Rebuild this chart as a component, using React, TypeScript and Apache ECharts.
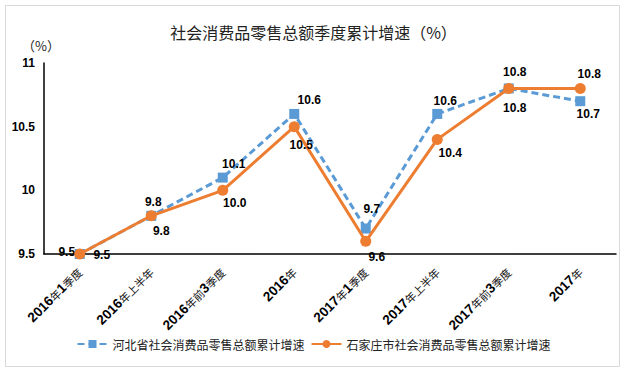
import React, { useEffect, useRef } from "react";
import * as echarts from "echarts";

const categories = ["2016年1季度", "2016年上半年", "2016年前3季度", "2016年", "2017年1季度", "2017年上半年", "2017年前3季度", "2017年"];
const hebeiValues = [9.5, 9.8, 10.1, 10.6, 9.7, 10.6, 10.8, 10.7];
const sjzValues = [9.5, 9.8, 10.0, 10.5, 9.6, 10.4, 10.8, 10.8];
const hebeiName = "河北省社会消费品零售总额累计增速";
const sjzName = "石家庄市社会消费品零售总额累计增速";
const titleText = "社会消费品零售总额季度累计增速（%）";

const hebeiOffsets = [[-13, -2], [2, -14], [11, -14], [15, -14], [6, -20], [8, -13], [6, 20], [8, 13]];
const sjzOffsets = [[22, 1], [10, 15], [12, 13], [7, 18], [11, 16], [13, 14], [6, -16], [9, -14]];

const NUM_FONT = "Liberation Sans, Arial, sans-serif";
const CJK_FONT = "Noto Sans CJK SC, sans-serif";

export default function App() {
  const ref = useRef<HTMLDivElement>(null);
  useEffect(() => {
    const chart = echarts.init(ref.current!, null, { renderer: "svg" });
    const lbl = (offs: number[][], vals: number[]) =>
      vals.map((v, i) => ({
        value: v,
        label: {
          show: true,
          position: "inside",
          offset: offs[i],
          formatter: v.toFixed(1),
          color: "#000",
          fontFamily: NUM_FONT,
          fontWeight: "bold",
          fontSize: 12,
        },
      }));
    const catFormatter = (s: string) =>
      s
        .split(/(\d+)/)
        .filter((p) => p.length > 0)
        .map((p) => (/^\d+$/.test(p) ? `{n|${p}}` : `{c|${p}}`))
        .join("");
    chart.setOption({
      animation: false,
      backgroundColor: "#fff",
      title: {
        text: titleText,
        left: "center",
        top: 19,
        textStyle: { fontFamily: CJK_FONT, fontSize: 16, fontWeight: "normal", color: "#222" },
      },
      graphic: [
        {
          type: "rect",
          shape: { x: 5.5, y: 5.5, width: 614, height: 361 },
          style: { fill: "none", stroke: "#d9d9d9", lineWidth: 1 },
          silent: true,
        },
        {
          type: "text",
          left: 22,
          top: 39,
          style: { text: "（%）", fontFamily: CJK_FONT, fontSize: 13, fill: "#222" },
        },
      ],
      legend: {
        bottom: 22,
        left: "center",
        itemWidth: 30,
        itemHeight: 10,
        itemGap: 6,
        textStyle: { fontFamily: CJK_FONT, fontSize: 12, color: "#222" },
        data: [hebeiName, sjzName],
      },
      grid: { left: 44, right: 11, top: 63, bottom: 123 },
      xAxis: {
        type: "category",
        data: categories,
        boundaryGap: true,
        axisLine: { lineStyle: { color: "#000", width: 1.5 } },
        axisTick: { show: false },
        axisLabel: {
          rotate: 45,
          interval: 0,
          color: "#000",
          margin: 16,
          formatter: catFormatter,
          rich: {
            n: { fontFamily: NUM_FONT, fontWeight: "bold", fontSize: 13.5, color: "#000" },
            c: { fontFamily: CJK_FONT, fontWeight: "normal", fontSize: 11, color: "#111" },
          },
        },
      },
      yAxis: {
        type: "value",
        min: 9.5,
        max: 11,
        interval: 0.5,
        axisLine: { show: true, lineStyle: { color: "#000", width: 1.5 } },
        axisTick: { show: false },
        splitLine: { show: false },
        axisLabel: {
          color: "#000",
          fontFamily: NUM_FONT,
          fontWeight: "bold",
          fontSize: 12,
          margin: 9,
          formatter: (v: number) => String(v),
        },
      },
      series: [
        {
          name: hebeiName,
          type: "line",
          data: lbl(hebeiOffsets, hebeiValues),
          symbol: "rect",
          symbolSize: 10,
          itemStyle: { color: "#5B9BD5" },
          lineStyle: { color: "#5B9BD5", width: 3, type: [7, 4] },
          z: 3,
        },
        {
          name: sjzName,
          type: "line",
          data: lbl(sjzOffsets, sjzValues),
          symbol: "circle",
          symbolSize: 11,
          itemStyle: { color: "#ED7D31" },
          lineStyle: { color: "#ED7D31", width: 3 },
          z: 4,
        },
      ],
    });
    return () => chart.dispose();
  }, []);
  return <div ref={ref} style={{ position: "fixed", left: 0, top: 0, width: 627, height: 377 }} />;
}
